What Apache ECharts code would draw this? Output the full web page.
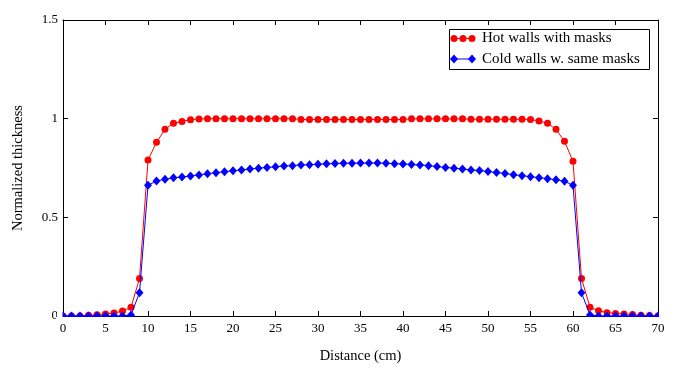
<!DOCTYPE html>
<html>
<head>
<meta charset="utf-8">
<script src="https://cdn.jsdelivr.net/npm/echarts@6/dist/echarts.min.js"></script>
<style>
html,body{margin:0;padding:0;background:#fff;}
#chart{width:678px;height:373px;}
</style>
</head>
<body>
<div id="chart"></div>
<script>
var distances = [0,1,2,3,4,5,6,7,8,9,10,11,12,13,14,15,16,17,18,19,20,21,22,23,24,25,26,27,28,29,30,31,32,33,34,35,36,37,38,39,40,41,42,43,44,45,46,47,48,49,50,51,52,53,54,55,56,57,58,59,60,61,62,63,64,65,66,67,68,69,70];
var hotWalls = [0,0,0,0.004,0.006,0.010,0.015,0.025,0.044,0.19,0.79,0.88,0.946,0.977,0.986,0.995,0.998,1.0,1.0,1.0,1.0,1.0,1.0,1.0,1.0,1.0,1.0,1.0,0.996,0.996,0.996,0.996,0.996,0.996,0.996,0.996,0.996,0.996,0.996,0.996,0.996,0.999,0.999,0.999,0.999,0.999,0.999,0.999,0.997,0.997,0.997,0.997,0.997,0.997,0.997,0.996,0.988,0.977,0.946,0.885,0.784,0.19,0.044,0.027,0.017,0.013,0.010,0.007,0.004,0.002,0];
var coldWalls = [0,0,0,0,0,0,0,0,0.005,0.118,0.662,0.684,0.693,0.700,0.704,0.710,0.715,0.721,0.726,0.731,0.736,0.740,0.745,0.749,0.753,0.756,0.760,0.762,0.765,0.767,0.769,0.771,0.773,0.774,0.774,0.775,0.775,0.775,0.774,0.772,0.770,0.768,0.765,0.762,0.757,0.753,0.749,0.745,0.740,0.737,0.732,0.727,0.722,0.716,0.711,0.706,0.701,0.696,0.690,0.683,0.662,0.118,0.005,0,0,0,0,0,0,0,0];
var seriesNames = ['Hot walls with masks', 'Cold walls w. same masks'];
var xTitle = 'Distance (cm)';
var yTitle = 'Normalized thickness';

function pairs(ys){ return distances.map(function(x,i){ return [x, ys[i]]; }); }

var FONT = '"Liberation Serif", "Times New Roman", serif';
var chart = echarts.init(document.getElementById('chart'), null, {renderer:'canvas'});
var GL = 63, GT = 20, GR = 20, GB = 57;

chart.setOption({
  animation: false,
  backgroundColor: '#fff',
  grid: {left: GL, right: GR, top: GT, bottom: GB, show: false},
  xAxis: [{
    type: 'value', min: 0, max: 70, interval: 5, position: 'bottom',
    axisLine: {show: true, onZero: false, lineStyle: {color: '#000', width: 1}},
    axisTick: {show: true, inside: true, length: 5, lineStyle: {color: '#000'}},
    axisLabel: {color: '#000', fontFamily: FONT, fontSize: 13, margin: 6},
    splitLine: {show: false},
    name: xTitle, nameLocation: 'middle', nameGap: 33,
    nameTextStyle: {color: '#000', fontFamily: FONT, fontSize: 14.5}
  },{
    type: 'value', min: 0, max: 70, interval: 5, position: 'top',
    axisLine: {show: true, onZero: false, lineStyle: {color: '#000', width: 1}},
    axisTick: {show: true, inside: true, length: 5, lineStyle: {color: '#000'}},
    axisLabel: {show: false}, splitLine: {show: false}
  }],
  yAxis: [{
    type: 'value', min: 0, max: 1.5, interval: 0.5, position: 'left',
    axisLine: {show: true, onZero: false, lineStyle: {color: '#000', width: 1}},
    axisTick: {show: true, inside: true, length: 5, lineStyle: {color: '#000'}},
    axisLabel: {color: '#000', fontFamily: FONT, fontSize: 13, margin: 5},
    splitLine: {show: false},
    name: yTitle, nameLocation: 'middle', nameGap: 37, nameRotate: 90,
    nameTextStyle: {color: '#000', fontFamily: FONT, fontSize: 14.5}
  },{
    type: 'value', min: 0, max: 1.5, interval: 0.5, position: 'right',
    axisLine: {show: true, onZero: false, lineStyle: {color: '#000', width: 1}},
    axisTick: {show: true, inside: true, length: 5, lineStyle: {color: '#000'}},
    axisLabel: {show: false}, splitLine: {show: false}
  }],
  series: [{
    name: seriesNames[0], type: 'line', data: pairs(hotWalls),
    xAxisIndex: 0, yAxisIndex: 0, clip: false,
    symbol: 'circle', symbolSize: 7, showSymbol: true,
    lineStyle: {color: '#ff0000', width: 1},
    itemStyle: {color: '#ff0000'}, z: 3
  },{
    name: seriesNames[1], type: 'line', data: pairs(coldWalls),
    xAxisIndex: 0, yAxisIndex: 0, clip: false,
    symbol: 'diamond', symbolSize: [8, 9], showSymbol: true,
    lineStyle: {color: '#0000ff', width: 1},
    itemStyle: {color: '#0000ff'}, z: 4
  }],
  graphic: [
    {type:'rect', z: 50, shape:{x: 56, y: 317, width: 610, height: 5}, style:{fill:'#fff'}, silent:true},
    {type:'rect', z: 50, shape:{x: 57, y: 308, width: 5.5, height: 14}, style:{fill:'#fff'}, silent:true},
    {type:'rect', z: 50, shape:{x: 659, y: 308, width: 6, height: 14}, style:{fill:'#fff'}, silent:true},
    {type:'rect', z: 60, shape:{x: 449.5, y: 29.5, width: 200, height: 40}, style:{fill:'#fff', stroke:'#000', lineWidth:1}},
    {type:'line', z: 61, shape:{x1: 454, y1: 38.5, x2: 472, y2: 38.5}, style:{stroke:'#ff0000', lineWidth:1}},
    {type:'circle', z: 62, shape:{cx: 454, cy: 38.5, r: 3.5}, style:{fill:'#ff0000'}},
    {type:'circle', z: 62, shape:{cx: 463, cy: 38.5, r: 3.5}, style:{fill:'#ff0000'}},
    {type:'circle', z: 62, shape:{cx: 472, cy: 38.5, r: 3.5}, style:{fill:'#ff0000'}},
    {type:'text', z: 62, style:{x: 482, y: 38.5, text: seriesNames[0], fill:'#000', font: '15px ' + FONT, verticalAlign:'middle'}},
    {type:'line', z: 61, shape:{x1: 454, y1: 59, x2: 472, y2: 59}, style:{stroke:'#0000ff', lineWidth:1}},
    {type:'polygon', z: 62, shape:{points: [[454,54.5],[458,59],[454,63.5],[450,59]]}, style:{fill:'#0000ff'}},
    {type:'polygon', z: 62, shape:{points: [[472,54.5],[476,59],[472,63.5],[468,59]]}, style:{fill:'#0000ff'}},
    {type:'text', z: 62, style:{x: 482, y: 59, text: seriesNames[1], fill:'#000', font: '15px ' + FONT, verticalAlign:'middle'}}
  ]
});
</script>
</body>
</html>
